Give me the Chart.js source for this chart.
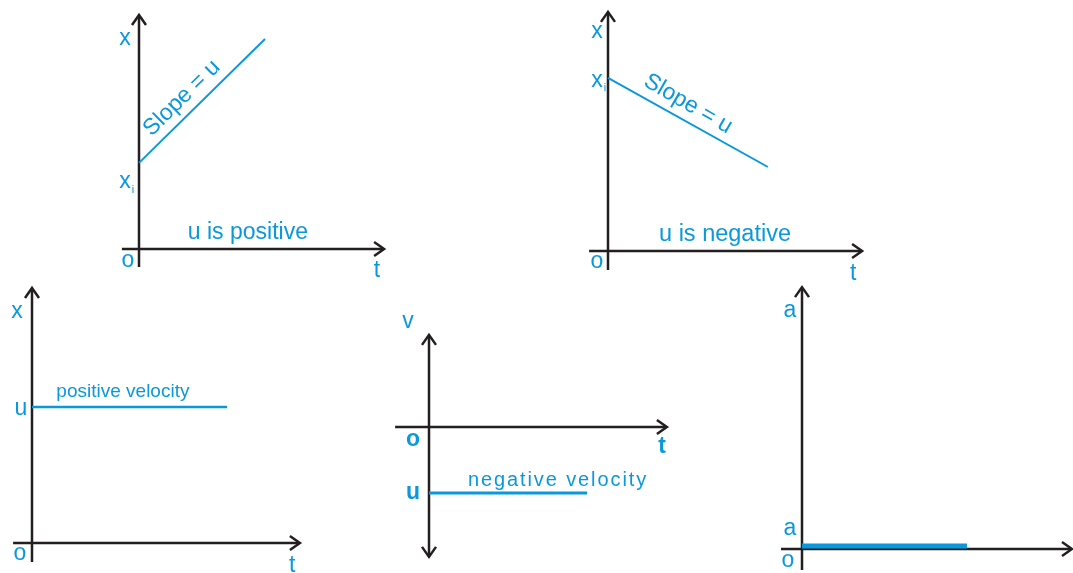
<!DOCTYPE html>
<html><head><meta charset="utf-8">
<script src="https://cdn.jsdelivr.net/npm/chart.js@4.4.1/dist/chart.umd.min.js"></script>
<style>
html,body{margin:0;padding:0;background:#fff;width:1073px;height:573px;overflow:hidden;position:relative}
canvas{position:absolute}
</style></head><body>
<script>
// ---- data (units: 1 = 30 px) ----
const p1T = [0, 4.2];   const p1X = [2.87, 7.0];     // x-t, u positive
const p2T = [0, 5.33];  const p2X = [5.77, 2.8];     // x-t, u negative
const p3T = [0, 6.5];   const p3X = [4.53, 4.53];    // positive velocity
const p4T = [0, 5.27];  const p4V = [-2.2, -2.2];    // negative velocity
const p5T = [0, 5.5];   const p5A = [0.1, 0.1];      // constant acceleration

const BLUE = '#0a98dc', INK = '#231f20', FONT = '"Liberation Sans", Arial, sans-serif';
const K = 30;

const panels = [
  { box:[100,0,300,290], origin:[139,249], t:p1T, y:p1X, lw:2,
    axX:[-0.57,8.17], axY:[-0.6,7.8], dbl:false,
    labels:[
      {s:'x',x:-0.47,y:6.8,f:23},{s:'x',x:-0.47,y:2.03,f:23},{s:'i',x:-0.2,y:1.87,f:11},
      {s:'o',x:-0.37,y:-0.6,f:23},{s:'t',x:7.93,y:-0.93,f:23},
      {s:'u is positive',x:3.63,y:0.33,f:23},
      {s:'Slope = u',x:1.43,y:5.03,f:23,rot:-44.5,mid:true}]},
  { box:[570,0,310,290], origin:[608,251], t:p2T, y:p2X, lw:2,
    axX:[-0.63,8.47], axY:[-0.63,7.97], dbl:false,
    labels:[
      {s:'x',x:-0.37,y:7.1,f:23},{s:'x',x:-0.37,y:5.47,f:23},{s:'i',x:-0.1,y:5.33,f:11},
      {s:'o',x:-0.37,y:-0.57,f:23},{s:'t',x:8.17,y:-0.97,f:23},
      {s:'u is negative',x:3.9,y:0.33,f:23.5},
      {s:'Slope = u',x:2.67,y:4.9,f:23,rot:30,mid:true}]},
  { box:[0,280,320,293], origin:[32,543], t:p3T, y:p3X, lw:2.5,
    axX:[-0.63,8.93], axY:[-0.63,8.5], dbl:false,
    labels:[
      {s:'x',x:-0.5,y:7.5,f:23},{s:'u',x:-0.37,y:4.27,f:23},
      {s:'o',x:-0.4,y:-0.57,f:23},{s:'t',x:8.67,y:-0.97,f:23},
      {s:'positive velocity',x:3.03,y:4.87,f:19}]},
  { box:[380,300,300,273], origin:[429,427], t:p4T, y:p4V, lw:3,
    axX:[-1.13,7.93], axY:[-4.33,3.07], dbl:true,
    labels:[
      {s:'v',x:-0.7,y:3.3,f:23},{s:'o',x:-0.53,y:-0.63,f:23,b:true},
      {s:'t',x:7.77,y:-0.87,f:23,b:true},{s:'u',x:-0.53,y:-2.4,f:23,b:true},
      {s:'negative velocity',x:4.3,y:-1.97,f:20,ls:1.9}]},
  { box:[760,270,313,303], origin:[802,549], t:p5T, y:p5A, lw:5,
    axX:[-0.7,9.0], axY:[-0.7,8.73], dbl:false,
    labels:[
      {s:'a',x:-0.4,y:7.73,f:23},{s:'a',x:-0.4,y:0.47,f:23},{s:'o',x:-0.47,y:-0.6,f:23}]}
];

function arrow(ctx, tx, ty, dir){ // dir: 'up','down','right'
  ctx.beginPath();
  if(dir==='up'){ctx.moveTo(tx-7,ty+10);ctx.lineTo(tx,ty);ctx.lineTo(tx+7,ty+10);}
  if(dir==='down'){ctx.moveTo(tx-7,ty-10);ctx.lineTo(tx,ty);ctx.lineTo(tx+7,ty-10);}
  if(dir==='right'){ctx.moveTo(tx-10,ty-7);ctx.lineTo(tx,ty);ctx.lineTo(tx-10,ty+7);}
  ctx.stroke();
}

const diagramPlugin = {
  id:'diagram',
  beforeDatasetsDraw(chart, args, o){
    const {ctx, scales:{x, y}} = chart; const p = o.panel;
    ctx.save(); ctx.strokeStyle = INK; ctx.lineWidth = 2.5; ctx.lineCap='butt'; ctx.lineJoin='miter';
    const y0 = y.getPixelForValue(0), x0 = x.getPixelForValue(0);
    const xl = x.getPixelForValue(p.axX[0]), xr = x.getPixelForValue(p.axX[1]);
    const yb = y.getPixelForValue(p.axY[0]), yt = y.getPixelForValue(p.axY[1]);
    ctx.beginPath(); ctx.moveTo(xl,y0); ctx.lineTo(xr-1,y0); ctx.stroke();
    ctx.beginPath(); ctx.moveTo(x0,yb); ctx.lineTo(x0,yt+1); ctx.stroke();
    arrow(ctx, xr, y0, 'right'); arrow(ctx, x0, yt, 'up');
    if(p.dbl) arrow(ctx, x0, yb, 'down');
    ctx.restore();
  },
  afterDraw(chart, args, o){
    const {ctx, scales:{x, y}} = chart; const p = o.panel;
    ctx.save(); ctx.fillStyle = BLUE; ctx.textAlign='center';
    p.labels.forEach(l=>{
      ctx.font = (l.b?'bold ':'') + l.f + 'px ' + FONT;
      ctx.letterSpacing = (l.ls||0) + 'px';
      const px = x.getPixelForValue(l.x), py = y.getPixelForValue(l.y);
      ctx.save(); ctx.translate(px, py);
      if(l.rot) ctx.rotate(l.rot*Math.PI/180);
      ctx.textBaseline = l.mid ? 'middle' : 'alphabetic';
      ctx.fillText(l.s, 0, 0);
      ctx.restore();
    });
    ctx.restore();
  }
};

panels.forEach(p=>{
  const [L,T,W,H] = p.box, [ox,oy] = p.origin;
  const c = document.createElement('canvas');
  c.width = W; c.height = H; c.style.left = L+'px'; c.style.top = T+'px';
  c.style.width = W+'px'; c.style.height = H+'px';
  document.body.appendChild(c);
  new Chart(c, {
    type:'line',
    data:{ datasets:[{ data: p.t.map((tv,i)=>({x:tv, y:p.y[i]})), borderColor:BLUE,
      borderWidth:p.lw, pointRadius:0, tension:0, fill:false, clip:false, borderCapStyle:'butt' }]},
    options:{
      responsive:false, animation:false, devicePixelRatio:1,
      layout:{padding:0},
      plugins:{ legend:{display:false}, tooltip:{enabled:false}, diagram:{panel:p} },
      scales:{
        x:{ type:'linear', display:false, min:(L-ox)/K, max:(L+W-ox)/K },
        y:{ type:'linear', display:false, min:(oy-(T+H))/K, max:(oy-T)/K }
      }
    },
    plugins:[diagramPlugin]
  });
});
</script>
</body></html>
